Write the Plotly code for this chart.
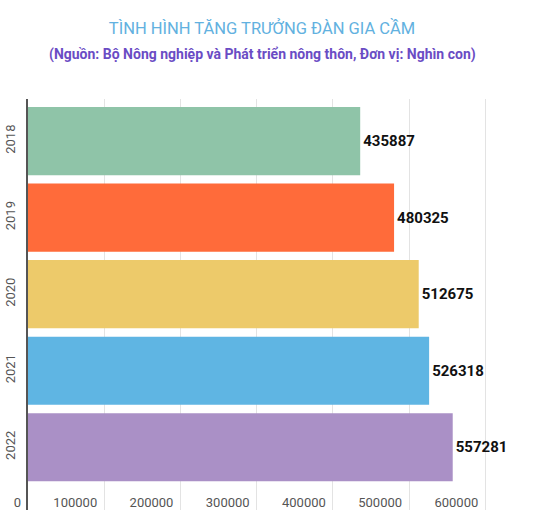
import plotly.graph_objects as go

# data
years = ['2018', '2019', '2020', '2021', '2022']
values = [435887, 480325, 512675, 526318, 557281]
colors = ['#8fc4a8', '#ff6b3a', '#edca6a', '#5fb5e3', '#aa90c6']
x_ticks = [0, 100000, 200000, 300000, 400000, 500000, 600000]

W, H = 539, 528

fig = go.Figure()
fig.add_trace(go.Bar(
    y=years,
    x=values,
    orientation='h',
    marker=dict(color=colors, line=dict(width=0)),
    text=[str(v) for v in values],
    textposition='outside',
    textfont=dict(family='Roboto', size=15, color='#111111', weight='bold'),
    cliponaxis=False,
    hoverinfo='skip',
))

fig.update_layout(
    width=W,
    height=H,
    margin=dict(l=28, r=8, t=99, b=18),
    paper_bgcolor='white',
    plot_bgcolor='white',
    bargap=0.11,
    showlegend=False,
    font=dict(family='Roboto', color='#555555'),
    title=dict(
        text='TÌNH HÌNH TĂNG TRƯỞNG ĐÀN GIA CẦM',
        x=262 / W, xanchor='center',
        y=1 - 28 / H, yanchor='middle',
        font=dict(family='Roboto', size=16.5, color='#62b1e0'),
    ),
    annotations=[dict(
        text='<b>(Nguồn: Bộ Nông nghiệp và Phát triển nông thôn, Đơn vị: Nghìn con)</b>',
        xref='paper', yref='paper',
        x=(262 - 28) / 503, y=1 + (99 - 54) / 411,
        xanchor='center', yanchor='middle',
        showarrow=False,
        font=dict(family='Roboto', size=14, color='#6a4cc4'),
    )],
)

fig.update_xaxes(
    range=[0, 660000],
    tickvals=x_ticks,
    ticktext=[str(v) for v in x_ticks],
    ticklabelposition='inside left',
    ticklabeloverflow='allow',
    ticklabelshift=-7,
    ticklabelstandoff=-6,
    tickfont=dict(size=13, color='#555555'),
    showgrid=True,
    gridcolor='#e3e3e3',
    gridwidth=1,
    zeroline=False,
    showline=False,
    automargin=False,
)

fig.update_yaxes(
    type='category',
    range=[4.82, -0.55],
    tickangle=-90,
    tickfont=dict(size=13, color='#555555'),
    ticks='outside',
    ticklen=6,
    tickcolor='rgba(0,0,0,0)',
    showgrid=False,
    showline=True,
    linecolor='#555555',
    linewidth=2,
    zeroline=False,
    automargin=False,
)

# drop the default 8px body margin so the figure fills the window
fig.write_html('out.html', config={'displayModeBar': False},
               post_script="document.body.style.margin = '0';")
